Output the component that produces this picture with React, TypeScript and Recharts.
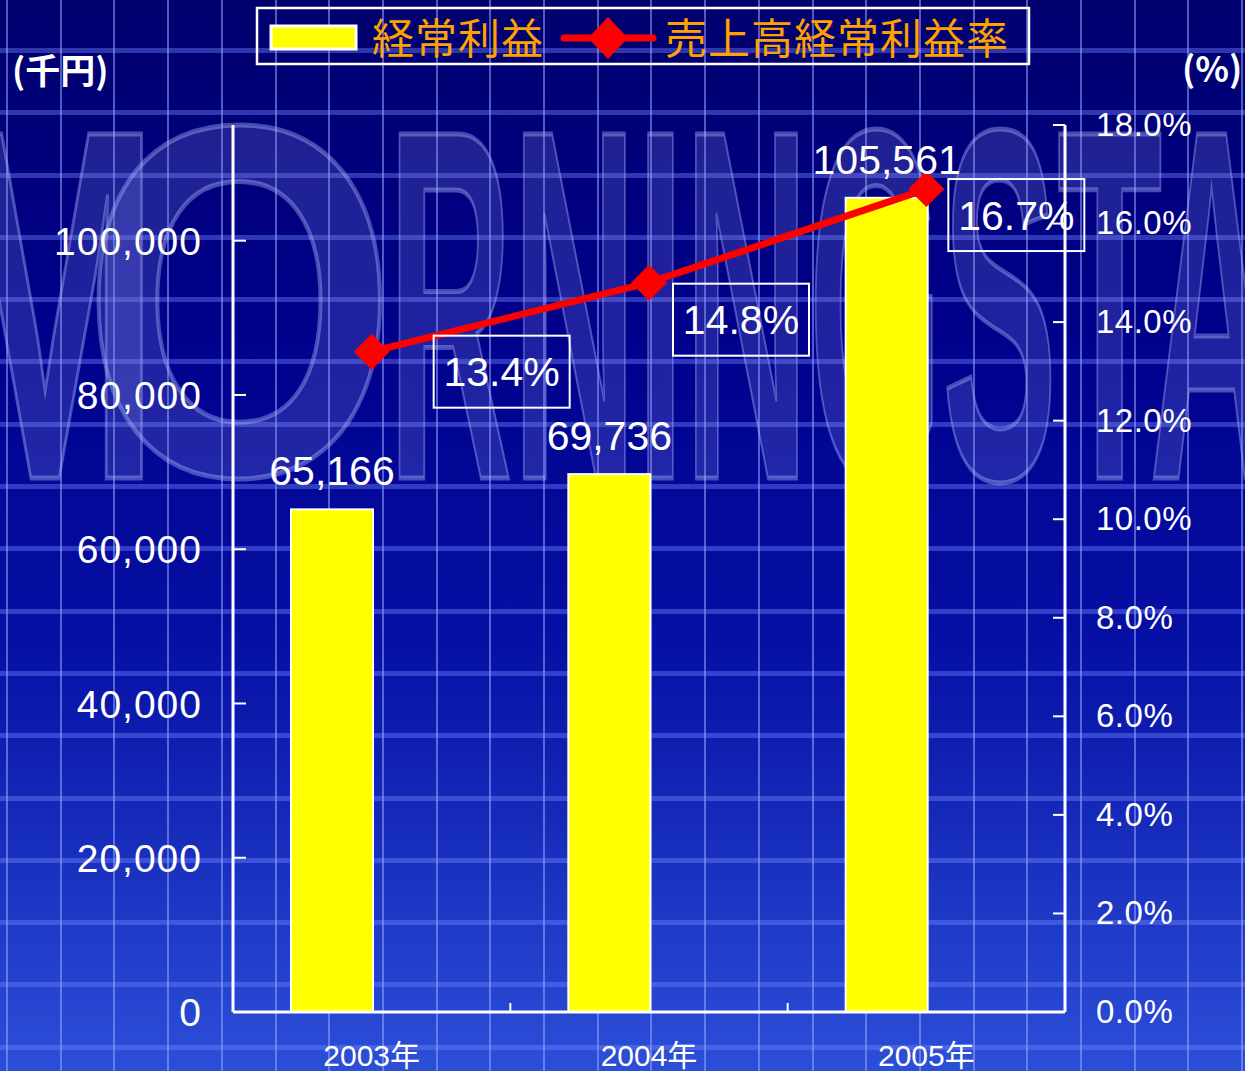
import React from 'react';
import { ComposedChart, Bar, Line, XAxis, YAxis, LabelList } from 'recharts';

const years = ['2003年', '2004年', '2005年'];
const ordinaryProfit = [65166, 69736, 105561];
const profitRate = [13.4, 14.8, 16.7];
const profitTicks = [0, 20000, 40000, 60000, 80000, 100000];
const rateTicks = [0, 2, 4, 6, 8, 10, 12, 14, 16, 18];

const data = years.map((year, i) => ({
  year,
  profit: ordinaryProfit[i],
  rate: profitRate[i],
}));

const W = 1245;
const H = 1071;
const LEFT_W = 233;
const RIGHT_W = 180;
const TOP = 125;
const X_H = 59;
const BAND = (W - LEFT_W - RIGHT_W) / years.length;
const BAR_SHIFT = -40;
// the % boxes were placed by hand in the original, so each has its own offset
const RATE_BOX_OFFSET = [
  [130, 20],
  [92, 37],
  [90, 26],
];

const SANS = '"Liberation Sans", Arial, "Noto Sans CJK JP", sans-serif';
const CJK = '"Noto Sans CJK JP", "Noto Sans CJK SC", sans-serif';

function LeftTick({ x, y, payload }: any) {
  return (
    <g>
      <line x1={x} x2={x + 13} y1={y} y2={y} stroke="#fff" strokeWidth={2} />
      <text
        x={x - 31}
        y={y}
        dy="0.36em"
        textAnchor="end"
        fill="#fff"
        fontSize={39}
        fontFamily={SANS}
        letterSpacing={1}
      >
        {Number(payload.value).toLocaleString('en-US')}
      </text>
    </g>
  );
}

function RightTick({ x, y, payload }: any) {
  return (
    <g>
      <line x1={x - 12} x2={x} y1={y} y2={y} stroke="#fff" strokeWidth={2} />
      <text
        x={x + 31}
        y={y}
        dy="0.33em"
        textAnchor="start"
        fill="#fff"
        fontSize={33}
        fontFamily={SANS}
        letterSpacing={0.5}
      >
        {Number(payload.value).toFixed(1)}%
      </text>
    </g>
  );
}

function YearTick({ x, y, payload, index }: any) {
  return (
    <g>
      {index < years.length - 1 && (
        <line x1={x + BAND / 2} x2={x + BAND / 2} y1={y} y2={y - 9} stroke="#fff" strokeWidth={2} />
      )}
      <text x={x} y={y + 54} textAnchor="middle" fill="#fff" fontSize={30} fontFamily={SANS}>
        {payload.value}
      </text>
    </g>
  );
}

function ShiftedBar(props: any) {
  const { x, y, width, height } = props;
  return (
    <rect
      x={x + BAR_SHIFT}
      y={y}
      width={width}
      height={height}
      fill="#ffff00"
      stroke="#fff"
      strokeWidth={2}
    />
  );
}

function ProfitLabel(props: any) {
  const vb = props.viewBox ?? props;
  const x = vb.x ?? props.x;
  const y = vb.y ?? props.y;
  const width = vb.width ?? props.width;
  return (
    <text
      x={x + width / 2 + BAR_SHIFT}
      y={y - 24}
      textAnchor="middle"
      fill="#fff"
      fontSize={41}
      fontFamily={SANS}
    >
      {Number(props.value).toLocaleString('en-US')}
    </text>
  );
}

function RateLabel(props: any) {
  const vb = props.viewBox ?? props;
  const x = vb.x ?? props.x;
  const y = vb.y ?? props.y;
  const [dx, dy] = RATE_BOX_OFFSET[props.index] ?? [100, 28];
  const cx = x + dx;
  const cy = y + dy;
  return (
    <g>
      <rect x={cx - 68} y={cy - 36} width={136} height={72} fill="none" stroke="#fff" strokeWidth={2} />
      <text x={cx} y={cy} dy="0.36em" textAnchor="middle" fill="#fff" fontSize={41} fontFamily={SANS}>
        {Number(props.value).toFixed(1)}%
      </text>
    </g>
  );
}

function Diamond({ cx, cy }: any) {
  const r = 18;
  return (
    <polygon
      points={`${cx},${cy - r} ${cx + r},${cy} ${cx},${cy + r} ${cx - r},${cy}`}
      fill="#ff0000"
    />
  );
}

function Backdrop() {
  const wm = {
    fill: 'rgba(130,140,225,0.24)',
    stroke: 'rgba(175,185,255,0.4)',
    strokeWidth: 5,
    fontFamily: '"Liberation Sans", Arial, sans-serif',
    fontWeight: 'bold' as const,
    fontSize: 500,
  };
  return (
    <svg width={W} height={H} style={{ position: 'absolute', left: 0, top: 0 }}>
      <text x={-70} y={478} textLength={230} lengthAdjust="spacingAndGlyphs" {...wm}>M</text>
      <text x={82} y={474} textLength={315} lengthAdjust="spacingAndGlyphs" {...wm}>O</text>
      <text x={388} y={478} textLength={1010} lengthAdjust="spacingAndGlyphs" {...wm}>RNINGSTAR</text>

      {/* legend */}
      <rect x={257} y={8} width={772} height={56} fill="none" stroke="#fff" strokeWidth={2.5} />
      <rect x={271} y={26} width={85} height={23} fill="#ffff00" stroke="#fff" strokeWidth={3} />
      <text x={372} y={35} dominantBaseline="central" fill="#ffa200" fontSize={42} fontFamily={CJK} letterSpacing={1}>
        経常利益
      </text>
      <line x1={564} x2={653} y1={38} y2={38} stroke="#ff0000" strokeWidth={7} strokeLinecap="round" />
      <polygon points="608,17 628,38 608,59 588,38" fill="#ff0000" />
      <text x={665} y={35} dominantBaseline="central" fill="#ffa200" fontSize={42} fontFamily={CJK} letterSpacing={1}>
        売上高経常利益率
      </text>

      {/* units */}
      <text x={12} y={68} dominantBaseline="central" fill="#fff" fontSize={35} fontWeight="bold" fontFamily={CJK}>
        (千円)
      </text>
      <text x={1182} y={66} dominantBaseline="central" fill="#fff" fontSize={35} fontWeight="bold" fontFamily={CJK}>
        (%)
      </text>
    </svg>
  );
}

export default function App() {
  return (
    <div
      style={{
        position: 'fixed',
        left: 0,
        top: 0,
        width: W,
        height: H,
        overflow: 'hidden',
        backgroundImage: [
          'repeating-linear-gradient(90deg, transparent 0px, transparent 6px, rgba(150,165,255,0.55) 6px, rgba(150,165,255,0.55) 8px, transparent 8px, transparent 53.7px)',
          'repeating-linear-gradient(180deg, rgba(110,130,255,0.42) -14.3px, rgba(110,130,255,0.42) -9.3px, transparent -9.3px, transparent 48px)',
          'linear-gradient(180deg, #00006e 0%, #00008a 30%, #0610a4 60%, #2c4fd8 100%)',
        ].join(', '),
      }}
    >
      <Backdrop />
      <ComposedChart
        width={W}
        height={H}
        data={data}
        margin={{ top: TOP, right: 0, bottom: 0, left: 0 }}
        style={{ position: 'absolute', left: 0, top: 0 }}
      >
        <XAxis
          dataKey="year"
          height={X_H}
          interval={0}
          axisLine={{ stroke: '#fff', strokeWidth: 3 }}
          tickLine={false}
          tickSize={0}
          tickMargin={0}
          tick={<YearTick />}
        />
        <YAxis
          yAxisId="left"
          orientation="left"
          width={LEFT_W}
          domain={[0, 115000]}
          ticks={profitTicks}
          interval={0}
          axisLine={{ stroke: '#fff', strokeWidth: 3 }}
          tickLine={false}
          tickSize={0}
          tickMargin={0}
          tick={<LeftTick />}
        />
        <YAxis
          yAxisId="right"
          orientation="right"
          width={RIGHT_W}
          domain={[0, 18]}
          ticks={rateTicks}
          interval={0}
          axisLine={{ stroke: '#fff', strokeWidth: 3 }}
          tickLine={false}
          tickSize={0}
          tickMargin={0}
          tick={<RightTick />}
        />
        <Bar
          yAxisId="left"
          dataKey="profit"
          barSize={82}
          shape={<ShiftedBar />}
          isAnimationActive={false}
        >
          <LabelList dataKey="profit" content={<ProfitLabel />} />
        </Bar>
        <Line
          yAxisId="right"
          dataKey="rate"
          stroke="#ff0000"
          strokeWidth={7}
          dot={(p: any) => <Diamond key={p.index} cx={p.cx} cy={p.cy} />}
          activeDot={false}
          isAnimationActive={false}
        >
          <LabelList dataKey="rate" content={<RateLabel />} />
        </Line>
      </ComposedChart>
    </div>
  );
}
